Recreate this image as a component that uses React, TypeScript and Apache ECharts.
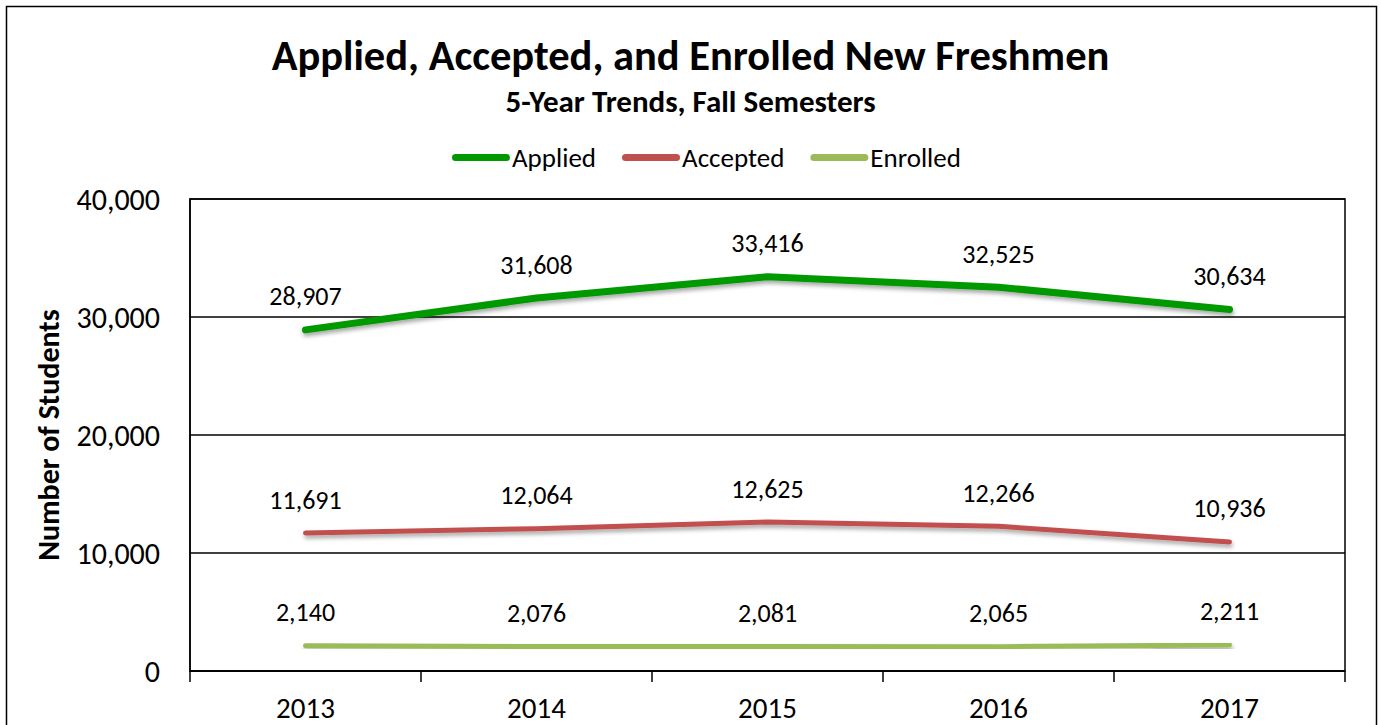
import React, { useEffect, useRef } from "react";
import * as echarts from "echarts";

const categories = ["2013", "2014", "2015", "2016", "2017"];
const applied = [28907, 31608, 33416, 32525, 30634];
const accepted = [11691, 12064, 12625, 12266, 10936];
const enrolled = [2140, 2076, 2081, 2065, 2211];
const yTicks = { min: 0, max: 40000, interval: 10000 };

const FONT = "Carlito, Lato, 'Open Sans', sans-serif";
const fmt = (v: number) => v.toLocaleString("en-US");
const STADIUM = "path://M3.5,0L54.5,0A3.5,3.5,0,0,1,54.5,7L3.5,7A3.5,3.5,0,0,1,3.5,0Z";

export default function App() {
  const ref = useRef<HTMLDivElement>(null);
  useEffect(() => {
    if (!ref.current) return;
    const chart = echarts.init(ref.current, null, { renderer: "svg" });
    const mkSeries = (name: string, data: number[], color: string, width: number) => ({
      name,
      type: "line",
      data,
      showSymbol: true,
      symbol: "circle",
      symbolSize: 1,
      itemStyle: { color },
      lineStyle: {
        color,
        width,
        cap: "round",
        join: "round",
        shadowColor: "rgba(0,0,0,0.35)",
        shadowBlur: 4,
        shadowOffsetX: 1,
        shadowOffsetY: 3,
      },
      label: {
        show: true,
        position: "top",
        distance: 20,
        fontSize: 26,
        color: "#000",
        fontFamily: FONT,
        formatter: (p: any) => fmt(p.value),
      },
      emphasis: { disabled: true },
    });
    chart.setOption({
      animation: false,
      backgroundColor: "#fff",
      textStyle: { fontFamily: FONT },
      title: [
        {
          text: "Applied, Accepted, and Enrolled New Freshmen",
          left: "center",
          top: 29,
          textStyle: { fontSize: 42.5, fontWeight: "bold", color: "#000", fontFamily: FONT },
        },
        {
          text: "5-Year Trends, Fall Semesters",
          left: "center",
          top: 80,
          textStyle: { fontSize: 31, fontWeight: "bold", color: "#000", fontFamily: FONT },
        },
      ],
      legend: {
        top: 139,
        left: 447,
        itemWidth: 58,
        itemHeight: 7,
        itemGap: 26,
        icon: STADIUM,
        textStyle: { fontSize: 27, color: "#000", fontFamily: FONT, padding: [0, 0, 0, -3] },
        data: ["Applied", "Accepted", "Enrolled"],
      },
      grid: {
        left: 190,
        right: 36,
        top: 199,
        bottom: 54,
        show: true,
        borderColor: "#000",
        borderWidth: 1.5,
      },
      xAxis: {
        type: "category",
        data: categories,
        boundaryGap: true,
        axisLine: { lineStyle: { color: "#000", width: 1.5 } },
        axisTick: { show: true, length: 11, inside: false, lineStyle: { color: "#000", width: 1.5 } },
        axisLabel: { fontSize: 29, lineHeight: 28, color: "#000", margin: 23, fontFamily: FONT },
      },
      yAxis: {
        type: "value",
        min: yTicks.min,
        max: yTicks.max,
        interval: yTicks.interval,
        name: "Number of Students",
        nameLocation: "middle",
        nameGap: 127,
        nameTextStyle: { fontSize: 30, fontWeight: "bold", color: "#000", fontFamily: FONT },
        axisLine: { show: true, lineStyle: { color: "#000", width: 1.5 } },
        axisTick: { show: false },
        splitLine: { show: true, lineStyle: { color: "#000", width: 1.5 } },
        axisLabel: { fontSize: 30, color: "#000", margin: 30, fontFamily: FONT, formatter: (v: number) => fmt(v) },
      },
      graphic: [
        {
          type: "rect",
          shape: { x: 6.5, y: 6.5, width: 1370, height: 800 },
          style: { fill: "none", stroke: "#000", lineWidth: 1.5 },
          silent: true,
          z: 100,
        },
      ],
      series: [
        mkSeries("Applied", applied, "#009900", 7),
        mkSeries("Accepted", accepted, "#C0504D", 5),
        mkSeries("Enrolled", enrolled, "#9BBB59", 5),
      ],
    });
    return () => chart.dispose();
  }, []);
  return (
    <div
      ref={ref}
      style={{ position: "fixed", left: 0, top: 0, width: 1381, height: 725 }}
    />
  );
}
